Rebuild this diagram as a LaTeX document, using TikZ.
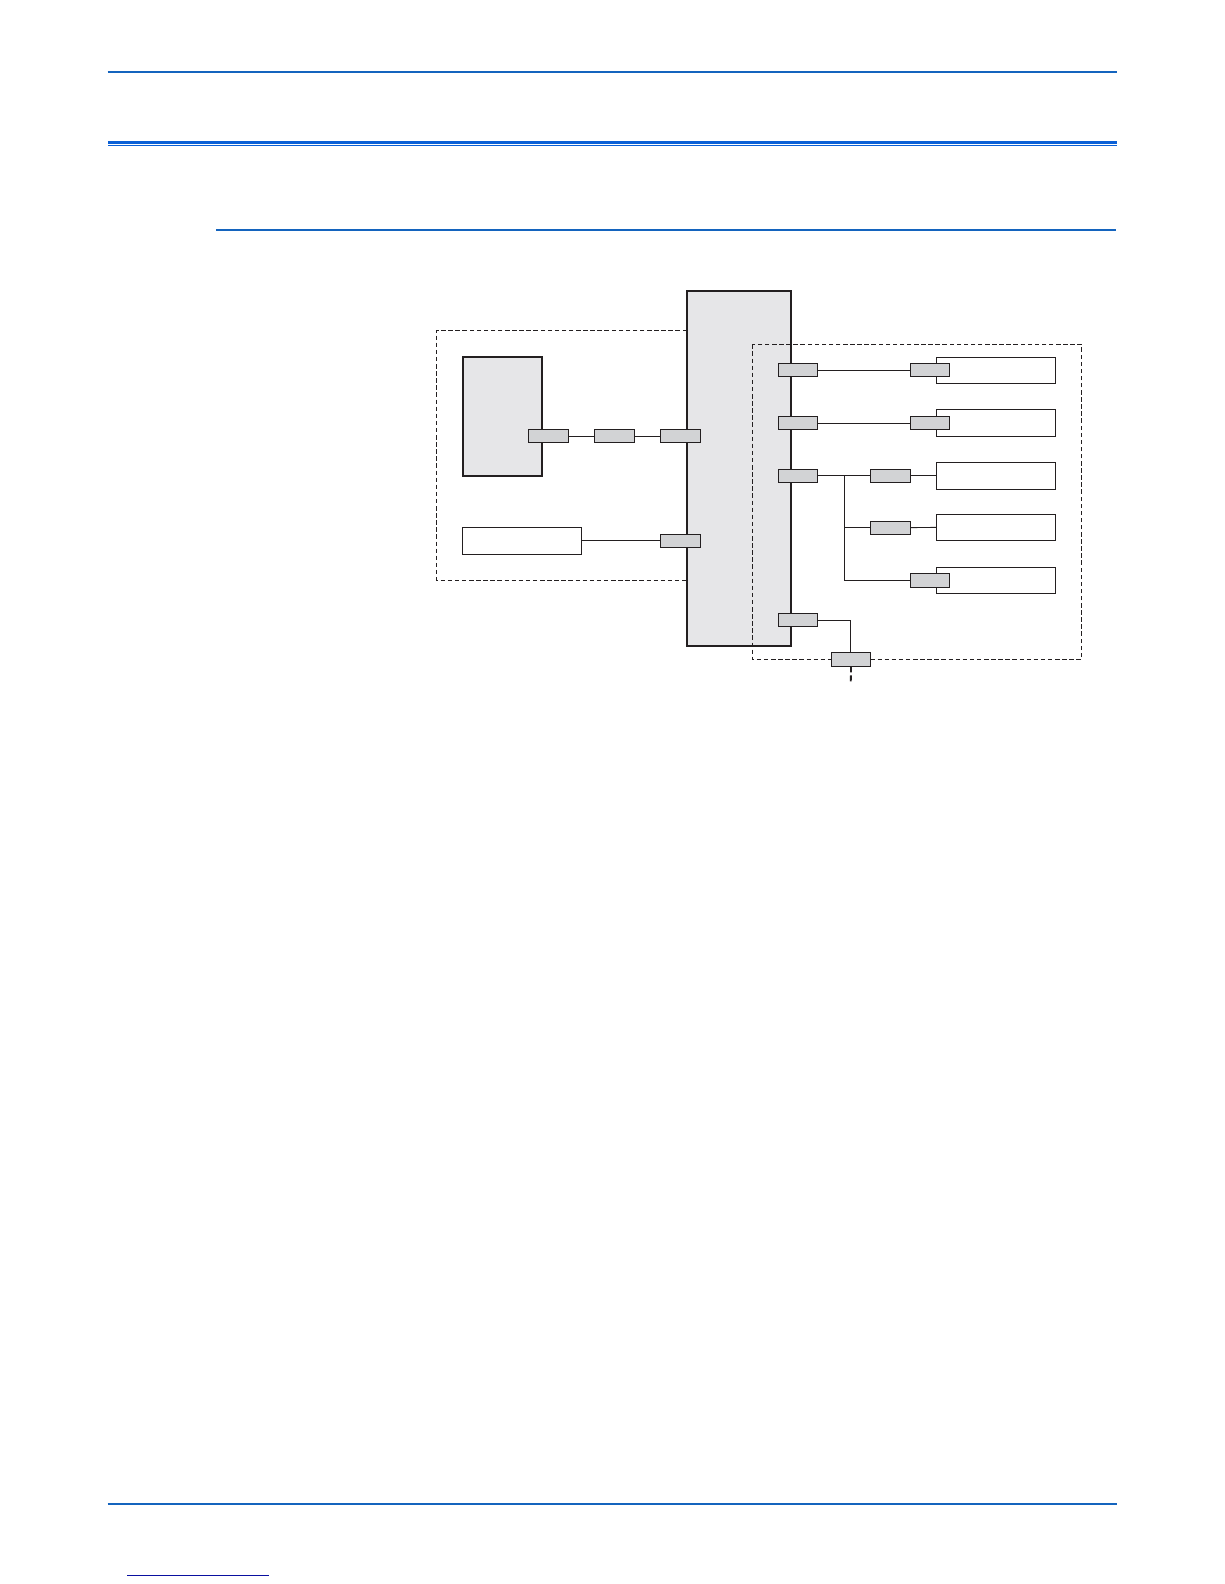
\documentclass[tikz,border=0pt]{standalone}
\definecolor{inkline}{HTML}{231F20}
\definecolor{panelgray}{HTML}{E6E6E8}
\definecolor{portgray}{HTML}{D2D3D5}
\definecolor{ruleblue}{HTML}{1464BE}
\definecolor{brightblue}{HTML}{0A60D6}
\definecolor{footblue}{HTML}{0A10A0}
\tikzset{
  panel/.style={draw=inkline,fill=panelgray,line width=1.7pt,inner sep=0pt,outer sep=0pt,line join=miter},
  whitebox/.style={draw=inkline,fill=white,line width=1pt,inner sep=0pt,outer sep=0pt,minimum width=119pt},
  portbox/.style={draw=inkline,fill=portgray,line width=0.9pt,inner sep=0pt,outer sep=0pt,minimum width=39.6pt,minimum height=13pt},
  wire/.style={draw=inkline,line width=0.9pt},
  zone/.style={draw=inkline,line width=0.8pt,dash pattern=on 4.5pt off 2.6pt},
  pagerule/.style={draw=ruleblue,line width=1.8pt}
}
\begin{document}
\begin{tikzpicture}[x=1pt,y=-1pt]
\useasboundingbox (0,0) rectangle (1224,1584);
% page rules
\draw[pagerule] (107.5,72) -- (1117,72);
\draw[draw=brightblue,line width=2.8pt] (108,142.4) -- (1117,142.4);
\draw[draw=brightblue,line width=0.9pt] (108,145.8) -- (1117,145.8);
\draw[draw=ruleblue,line width=1.8pt] (216,230) -- (1116,230);
\draw[pagerule] (107.5,1504) -- (1117,1504);
\draw[draw=footblue,line width=1pt] (127,1575.3) -- (269,1575.3);
% main panels
\node[panel,minimum width=104pt,minimum height=355pt] (hub) at (739,468.5) {};
\node[panel,minimum width=79.3pt,minimum height=119.3pt] (unit) at (502.3,416.3) {};
\node[whitebox,minimum height=27pt] (wa) at (522.1,540.8) {};
% dashed zones
\draw[zone] (687,330.5) -- (436.5,330.5) -- (436.5,580) -- (687,580);
\draw[zone] (752.3,344.3) rectangle (1081.3,659.3);
% white boxes on the right
\node[whitebox,minimum height=26pt] (wb) at (995.8,370.3) {};
\node[whitebox,minimum height=27pt] (wc) at (995.8,422.8) {};
\node[whitebox,minimum height=27pt] (wd) at (995.8,475.8) {};
\node[whitebox,minimum height=26.3pt] (we) at (995.8,527.4) {};
\node[whitebox,minimum height=26pt] (wf) at (995.8,580.3) {};
% ports
\node[portbox] (p1) at (548.3,436) {};
\node[portbox] (p2) at (614.5,436) {};
\node[portbox] (p3) at (680.5,436) {};
\node[portbox] (p4) at (680.5,540.8) {};
\node[portbox] (r1) at (798,370.2) {};
\node[portbox] (r2) at (798,423.2) {};
\node[portbox] (r3) at (798,475.8) {};
\node[portbox] (r4) at (798,620) {};
\node[portbox] (t1) at (930,370.2) {};
\node[portbox] (t2) at (930,423.2) {};
\node[portbox] (m1) at (890.3,475.8) {};
\node[portbox] (m2) at (890.3,527.6) {};
\node[portbox,minimum height=14pt] (t5) at (930,580.3) {};
\coordinate (jt) at (844.3,475.8);
\coordinate (jm) at (844.3,527.6);
\coordinate (jb) at (844.3,580.3);
\coordinate (bend) at (850.3,620);
\coordinate (tail) at (850.8,683);
% connectors
\draw[wire] (p1.east) -- (p2.west);
\draw[wire] (p2.east) -- (p3.west);
\draw[wire] (wa.east) -- (p4.west);
\draw[wire] (r1.east) -- (t1.west);
\draw[wire] (r2.east) -- (t2.west);
\draw[wire] (r3.east) -- (m1.west);
\draw[wire] (m1.east) -- (wd.west);
\draw[wire] (jt) -- (jb) -- (t5.west);
\draw[wire] (jm) -- (m2.west);
\draw[wire] (m2.east) -- (we.west);
\draw[wire] (r4.east) -- (bend);
\node[portbox,minimum height=14pt] (q) at (851,659.3) {};
\draw[wire] (bend) -- (bend |- q.north);
\draw[draw=inkline,line width=1.8pt,dash pattern=on 6pt off 3pt] (q.south) -- (tail);
\end{tikzpicture}
\end{document}
